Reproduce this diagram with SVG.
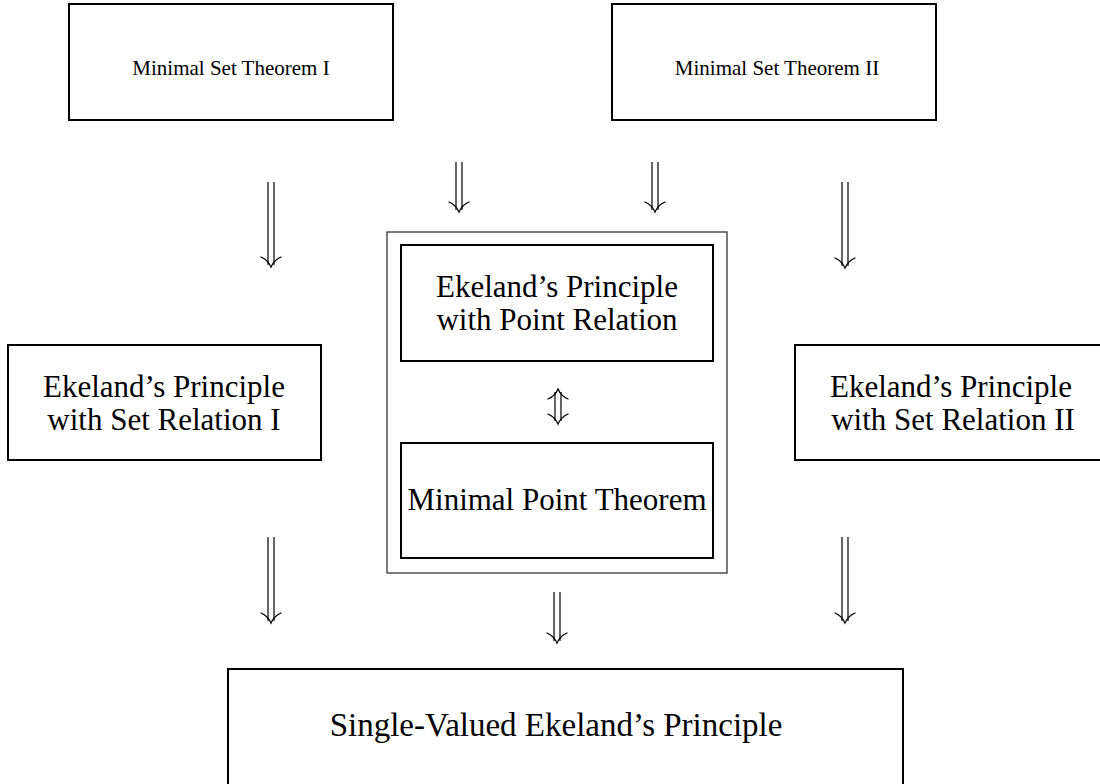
<svg xmlns="http://www.w3.org/2000/svg" width="1100" height="784" viewBox="0 0 1100 784">
<style>
.box{fill:none;stroke:#000;stroke-width:2}
.outer{fill:none;stroke:#333;stroke-width:1.3}
.t{font-family:"Liberation Serif","Times New Roman",serif;font-size:31px;fill:#000;text-anchor:middle}
.ts{font-size:21px}
.tb{font-size:33px}
.shaft{stroke:#000;stroke-width:1.2;fill:none}
.head{stroke:#000;stroke-width:1.3;fill:none;stroke-linecap:round}
</style>
<rect width="1100" height="784" fill="#fff"/>
<g id="n-mst1"><rect class="box" x="69" y="4" width="324" height="116"/><text class="t ts" x="231" y="75">Minimal Set Theorem I</text></g>
<g id="n-mst2"><rect class="box" x="612" y="4" width="324" height="116"/><text class="t ts" x="777" y="75">Minimal Set Theorem II</text></g>
<g id="n-group"><rect class="outer" x="387" y="232" width="340" height="341"/></g>
<g id="n-epp"><rect class="box" x="401" y="245" width="312" height="116"/><text class="t" x="557" y="297">Ekeland’s Principle</text><text class="t" x="557" y="330">with Point Relation</text></g>
<g id="n-mpt"><rect class="box" x="401" y="443" width="312" height="115"/><text class="t" x="557" y="510">Minimal Point Theorem</text></g>
<g id="n-eps1"><rect class="box" x="8" y="345" width="313" height="115"/><text class="t" x="164" y="397">Ekeland’s Principle</text><text class="t" x="164" y="430">with Set Relation I</text></g>
<g id="n-eps2"><rect class="box" x="795" y="345" width="320" height="115"/><text class="t" x="951" y="397">Ekeland’s Principle</text><text class="t" x="953" y="430">with Set Relation II</text></g>
<g id="n-sve"><rect class="box" x="228" y="669" width="675" height="130"/><text class="t tb" x="556" y="736">Single-Valued Ekeland’s Principle</text></g>
<g id="connectors">
<path class="shaft" d="M268 182V265M274 182V265"/><path class="head" d="M261 257Q268 260 271 267Q274 260 281 257"/>
<path class="shaft" d="M456 162V210M462 162V210"/><path class="head" d="M449 202Q456 205 459 212Q462 205 469 202"/>
<path class="shaft" d="M652 162V210M658 162V210"/><path class="head" d="M645 202Q652 205 655 212Q658 205 665 202"/>
<path class="shaft" d="M842 182V266M848 182V266"/><path class="head" d="M835 258Q842 261 845 268Q848 261 855 258"/>
<path class="shaft" d="M555 392V421M561 392V421"/><path class="head" d="M548 399Q555 396 558 389Q561 396 568 399"/><path class="head" d="M548 414Q555 417 558 424Q561 417 568 414"/>
<path class="shaft" d="M268 537V621M274 537V621"/><path class="head" d="M261 613Q268 616 271 623Q274 616 281 613"/>
<path class="shaft" d="M554 592V641M560 592V641"/><path class="head" d="M547 633Q554 636 557 643Q560 636 567 633"/>
<path class="shaft" d="M842 537V621M848 537V621"/><path class="head" d="M835 613Q842 616 845 623Q848 616 855 613"/>
</g>
</svg>
